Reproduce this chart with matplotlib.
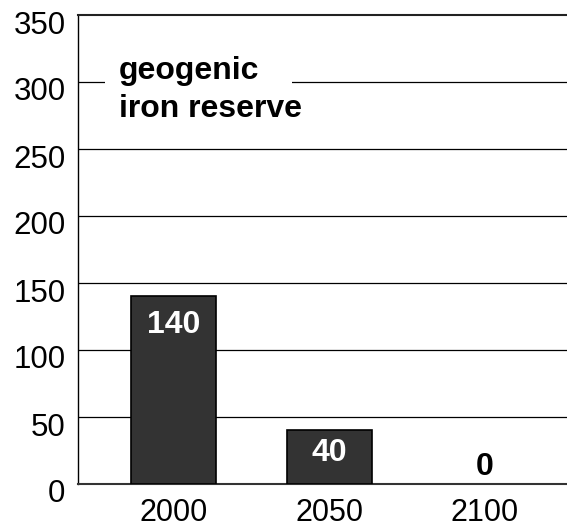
import matplotlib
matplotlib.use("Agg")
import matplotlib.pyplot as plt
from matplotlib.patches import Rectangle
from matplotlib.transforms import ScaledTranslation

categories = ["2000", "2050", "2100"]
values = [140, 40, 0]
yticks = [0, 50, 100, 150, 200, 250, 300, 350]

plt.rcParams['font.family'] = ['Liberation Sans', 'DejaVu Sans']

fig = plt.figure(figsize=(5.67, 5.31), dpi=100)
ax = fig.add_axes([78/567, 1-484/531, (567-78)/567, (484-15)/531])

x = list(range(len(categories)))
for xi, v in zip(x, values):
    if v > 0:
        ax.bar(xi, v, width=0.545, color='#333333', edgecolor='black', linewidth=1.2, zorder=3)
ax.set_xlim(-0.612, 2.526)
ax.set_ylim(0, 350)
ax.set_yticks(yticks)
ax.set_yticklabels([str(v) for v in yticks], fontsize=22.5)
ax.set_xticks(x)
ax.set_xticklabels(categories, fontsize=22)
ax.tick_params(axis='both', length=0)
ax.tick_params(axis='y', pad=9)
ax.tick_params(axis='x', pad=10)
off = ScaledTranslation(0, -7/100, fig.dpi_scale_trans)
for lab in ax.get_yticklabels():
    lab.set_transform(lab.get_transform() + off)
for yv in yticks[1:-1]:
    ax.axhline(yv, color='black', linewidth=0.9, zorder=1)
ax.spines['right'].set_visible(False)
ax.spines['top'].set_linewidth(1.5)
ax.spines['top'].set_color('#222222')
ax.spines['bottom'].set_linewidth(1.5)
ax.spines['bottom'].set_color('#333333')
ax.spines['left'].set_linewidth(1.0)

label_offsets = [-21.5, -16.5, 12.5]
for xi, v, o in zip(x, values, label_offsets):
    ax.text(xi, v + o, str(v), ha='center', va='center',
            color='white' if v > 0 else 'black',
            fontsize=23, fontweight='bold', zorder=4)

ax.add_patch(Rectangle(((105-78)/489, (484-108)/469), (292-105)/489, 45/469,
                       transform=ax.transAxes, facecolor='white', edgecolor='none', zorder=2))
ax.text(-0.35, 294, "geogenic\niron reserve", ha='left', va='center', fontsize=23,
        fontweight='bold', linespacing=1.35, zorder=5)

fig.savefig("out.png", dpi=100)
